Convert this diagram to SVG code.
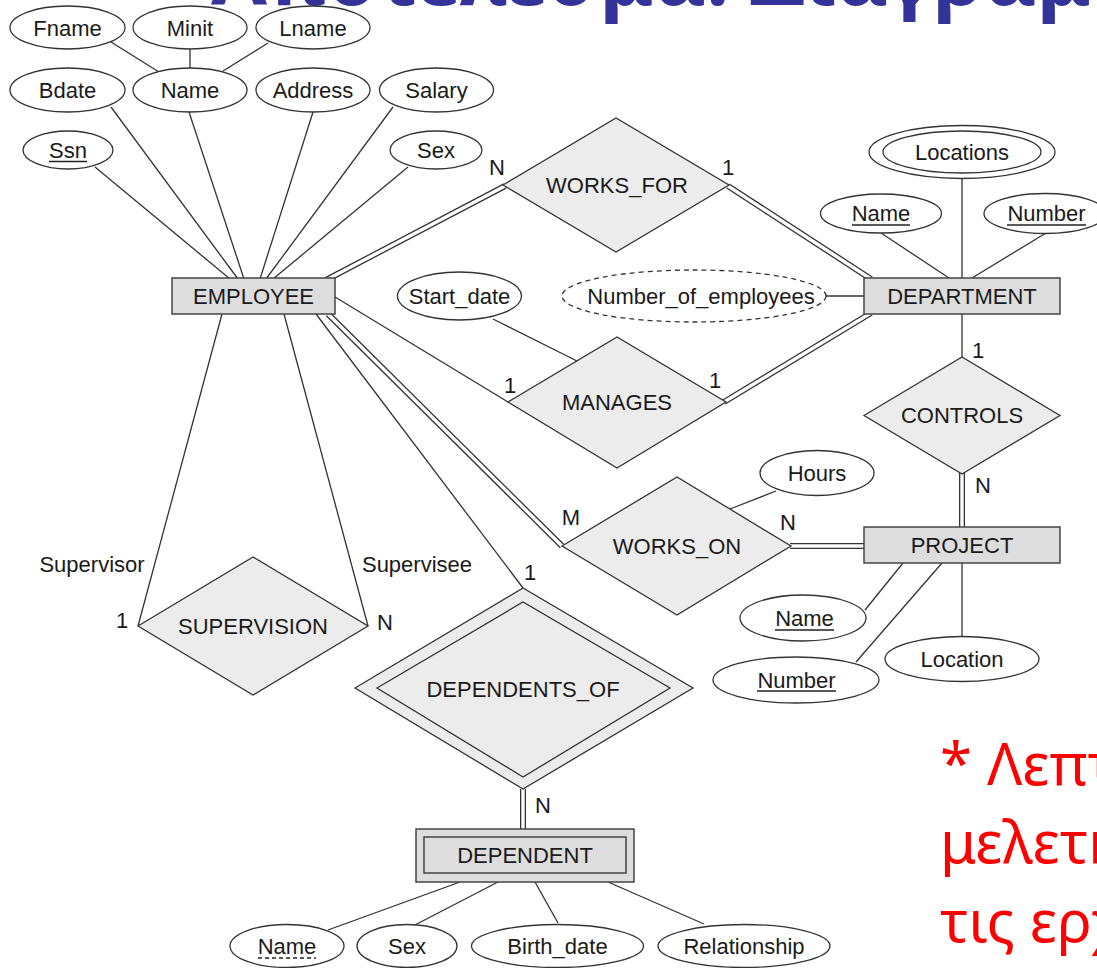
<svg xmlns="http://www.w3.org/2000/svg" width="1097" height="968" viewBox="0 0 1097 968">
<style>
  .ln{stroke:#333;stroke-width:1.3;fill:none}
  .dbo{stroke:#333;stroke-width:6;fill:none}
  .dbi{stroke:#fff;stroke-width:3.4;fill:none}
  .att{fill:#fff;stroke:#333;stroke-width:1.3}
  .ent{fill:#dddddd;stroke:#444;stroke-width:1.5}
  .rel{fill:#ececec;stroke:#333;stroke-width:1.3}
  text{font-family:"Liberation Sans",Arial,sans-serif;font-size:22px;fill:#1a1a1a}
  .c{text-anchor:middle}
  .ul{stroke:#222;stroke-width:1.3}
  .title{font-family:"Noto Sans","Open Sans",sans-serif;font-weight:bold;font-size:81px;fill:#333399}
  .note{font-family:"Noto Sans","Open Sans",sans-serif;font-size:58px;fill:#ff0000}
</style>
<rect width="1097" height="968" fill="#fff"/>
<text class="title" x="211" y="5">Αποτέλεσμα: Διάγραμμα</text>

<g id="connectors">
  <line class="ln" x1="111" y1="42" x2="159" y2="72"/>
  <line class="ln" x1="190" y1="49" x2="190" y2="68"/>
  <line class="ln" x1="268" y1="43" x2="223" y2="71"/>
  <line class="ln" x1="95" y1="167" x2="230" y2="279"/>
  <line class="ln" x1="111" y1="107" x2="238" y2="279"/>
  <line class="ln" x1="189" y1="112" x2="244" y2="279"/>
  <line class="ln" x1="313" y1="112" x2="260" y2="279"/>
  <line class="ln" x1="393" y1="107" x2="266" y2="279"/>
  <line class="ln" x1="408" y1="167" x2="273" y2="279"/>
  <line class="ln" x1="335" y1="297" x2="508" y2="402"/>
  <line class="ln" x1="493" y1="319" x2="577" y2="361"/>
  <line class="ln" x1="826" y1="296" x2="864" y2="296"/>
  <line class="ln" x1="962" y1="178" x2="962" y2="278"/>
  <line class="ln" x1="881" y1="233" x2="949" y2="278"/>
  <line class="ln" x1="1046" y1="233" x2="972" y2="278"/>
  <line class="ln" x1="962" y1="314" x2="962" y2="357"/>
  <line class="ln" x1="776" y1="491" x2="730" y2="509"/>
  <line class="ln" x1="222" y1="314" x2="138" y2="626"/>
  <line class="ln" x1="284" y1="314" x2="368" y2="626"/>
  <line class="ln" x1="316" y1="314" x2="523" y2="588"/>
  <line class="ln" x1="903" y1="563" x2="865" y2="610"/>
  <line class="ln" x1="942" y1="563" x2="856" y2="662"/>
  <line class="ln" x1="962" y1="563" x2="962" y2="637"/>
  <line class="ln" x1="460" y1="882" x2="328" y2="930"/>
  <line class="ln" x1="498" y1="882" x2="411" y2="927"/>
  <line class="ln" x1="535" y1="882" x2="558" y2="923"/>
  <line class="ln" x1="608" y1="882" x2="704" y2="924"/>
  <g>
    <path class="dbo" d="M326 280 L505 186"/><path class="dbi" d="M326 280 L505 186"/>
    <path class="dbo" d="M728 186 L871 279"/><path class="dbi" d="M728 186 L871 279"/>
    <path class="dbo" d="M724 402 L871 313"/><path class="dbi" d="M724 402 L871 313"/>
    <path class="dbo" d="M962 473 L962 527"/><path class="dbi" d="M962 473 L962 527"/>
    <path class="dbo" d="M328 314 L562 546"/><path class="dbi" d="M328 314 L562 546"/>
    <path class="dbo" d="M790 546 L864 546"/><path class="dbi" d="M790 546 L864 546"/>
    <path class="dbo" d="M523 789 L523 829"/><path class="dbi" d="M523 789 L523 829"/>
  </g>
</g>

<g id="labels">
  <text class="c" x="497" y="175">N</text>
  <text class="c" x="728" y="175">1</text>
  <text class="c" x="510" y="393">1</text>
  <text class="c" x="715" y="388">1</text>
  <text class="c" x="978" y="358">1</text>
  <text class="c" x="983" y="493">N</text>
  <text class="c" x="571" y="525">M</text>
  <text class="c" x="788" y="530">N</text>
  <text class="c" x="530" y="580">1</text>
  <text class="c" x="543" y="813">N</text>
  <text class="c" x="122" y="628">1</text>
  <text class="c" x="385" y="630">N</text>
  <text class="c" x="92" y="572">Supervisor</text>
  <text class="c" x="417" y="572">Supervisee</text>
</g>

<g id="Fname"><ellipse class="att" cx="67.5" cy="27.5" rx="57.5" ry="21.5"/><text class="c" x="67.5" y="35.5">Fname</text></g>
<g id="Minit"><ellipse class="att" cx="190" cy="27.5" rx="57" ry="21.5"/><text class="c" x="190" y="35.5">Minit</text></g>
<g id="Lname"><ellipse class="att" cx="313" cy="27.5" rx="57" ry="21.5"/><text class="c" x="313" y="35.5">Lname</text></g>
<g id="Bdate"><ellipse class="att" cx="67.5" cy="90" rx="57.5" ry="22"/><text class="c" x="67.5" y="98">Bdate</text></g>
<g id="EmpName"><ellipse class="att" cx="190" cy="90" rx="57" ry="22"/><text class="c" x="190" y="98">Name</text></g>
<g id="Address"><ellipse class="att" cx="313" cy="90" rx="57" ry="22"/><text class="c" x="313" y="98">Address</text></g>
<g id="Salary"><ellipse class="att" cx="436.5" cy="90" rx="57" ry="22"/><text class="c" x="436.5" y="98">Salary</text></g>
<g id="Ssn"><ellipse class="att" cx="68" cy="150" rx="45" ry="19"/><text class="c" x="68" y="158">Ssn</text><line class="ul" x1="49" y1="161.5" x2="87" y2="161.5"/></g>
<g id="Sex"><ellipse class="att" cx="436" cy="150" rx="46" ry="19"/><text class="c" x="436" y="158">Sex</text></g>

<g id="EMPLOYEE"><rect class="ent" x="172" y="278" width="163" height="36"/><text class="c" x="253.5" y="304">EMPLOYEE</text></g>

<g id="WORKS_FOR"><polygon class="rel" points="503,185 616,118 729,185 616,252"/><text class="c" x="617" y="193">WORKS_FOR</text></g>
<g id="MANAGES"><polygon class="rel" points="508,402 617,337 726,402 617,468"/><text class="c" x="617" y="410">MANAGES</text></g>
<g id="Start_date"><ellipse class="att" cx="459.5" cy="296" rx="62" ry="24"/><text class="c" x="459.5" y="304">Start_date</text></g>
<g id="Number_of_employees"><ellipse class="att" cx="694" cy="296" rx="132" ry="26" stroke-dasharray="5,4"/><text class="c" x="701" y="304">Number_of_employees</text></g>

<g id="DEPARTMENT"><rect class="ent" x="864" y="278" width="196" height="36"/><text class="c" x="962" y="304">DEPARTMENT</text></g>
<g id="Locations"><ellipse class="att" cx="962" cy="152" rx="93" ry="26.5"/><ellipse class="att" cx="962" cy="152" rx="79" ry="21"/><text class="c" x="962" y="160">Locations</text></g>
<g id="DeptName"><ellipse class="att" cx="881" cy="213.5" rx="60.5" ry="19.5"/><text class="c" x="881" y="221">Name</text><line class="ul" x1="852" y1="225" x2="910" y2="225"/></g>
<g id="DeptNumber"><ellipse class="att" cx="1045" cy="213.5" rx="61" ry="20"/><text class="c" x="1046.5" y="221">Number</text><line class="ul" x1="1007" y1="225" x2="1086" y2="225"/></g>

<g id="CONTROLS"><polygon class="rel" points="864,415.5 962,357 1060,415.5 962,474"/><text class="c" x="962" y="423">CONTROLS</text></g>

<g id="PROJECT"><rect class="ent" x="864" y="527" width="196" height="36"/><text class="c" x="962" y="553">PROJECT</text></g>
<g id="WORKS_ON"><polygon class="rel" points="562,546 677,477 791,546 677,615"/><text class="c" x="677" y="554">WORKS_ON</text></g>
<g id="Hours"><ellipse class="att" cx="817" cy="473" rx="57" ry="22.5"/><text class="c" x="817" y="481">Hours</text></g>
<g id="ProjName"><ellipse class="att" cx="803" cy="618" rx="63" ry="23"/><text class="c" x="804.5" y="626">Name</text><line class="ul" x1="775" y1="630" x2="834" y2="630"/></g>
<g id="ProjNumber"><ellipse class="att" cx="796" cy="680" rx="83" ry="23"/><text class="c" x="796.5" y="688">Number</text><line class="ul" x1="757" y1="691" x2="836" y2="691"/></g>
<g id="Location"><ellipse class="att" cx="962" cy="659" rx="77" ry="22.5"/><text class="c" x="962" y="667">Location</text></g>

<g id="SUPERVISION"><polygon class="rel" points="138,626 253,557 368,626 253,695"/><text class="c" x="253" y="634">SUPERVISION</text></g>

<g id="DEPENDENTS_OF"><polygon class="rel" points="355,688 523,588 693,688 523,789"/><polygon class="rel" points="377,688 523,602 670,688 523,777"/><text class="c" x="523" y="697">DEPENDENTS_OF</text></g>

<g id="DEPENDENT"><rect class="ent" x="416" y="829" width="218" height="53"/><rect class="ent" x="424" y="837" width="202" height="36"/><text class="c" x="525" y="863">DEPENDENT</text></g>
<g id="DepName"><ellipse class="att" cx="287" cy="946" rx="57" ry="21.5"/><text class="c" x="287" y="954">Name</text><line class="ul" x1="258" y1="958" x2="316" y2="958" stroke-dasharray="4,3"/></g>
<g id="DepSex"><ellipse class="att" cx="407" cy="946" rx="50" ry="21.5"/><text class="c" x="407" y="954">Sex</text></g>
<g id="Birth_date"><ellipse class="att" cx="557.5" cy="946" rx="86" ry="21.5"/><text class="c" x="557.5" y="954">Birth_date</text></g>
<g id="Relationship"><ellipse class="att" cx="744" cy="946" rx="86" ry="21.5"/><text class="c" x="744" y="954">Relationship</text></g>

<g id="note">
  <text class="note" x="940" y="785">* Λεπτομέρειες</text>
  <text class="note" x="940" y="863">μελετηθούν</text>
  <text class="note" x="940" y="942">τις ερχόμενες</text>
</g>
</svg>
